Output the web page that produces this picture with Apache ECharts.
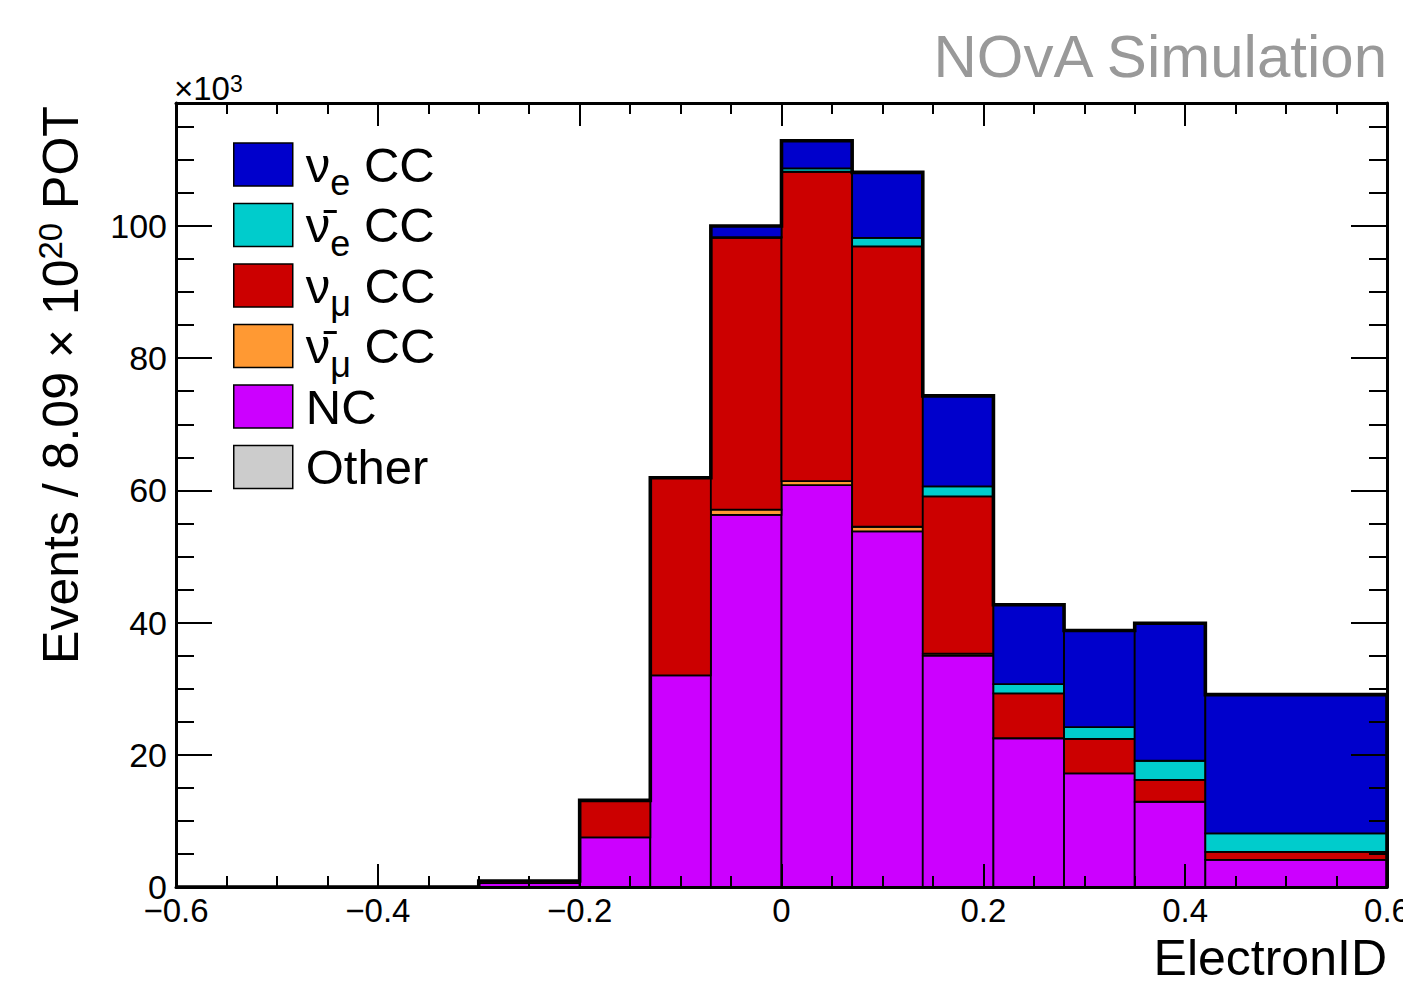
<!DOCTYPE html>
<html><head><meta charset="utf-8">
<script src="https://cdn.jsdelivr.net/npm/echarts@6/dist/echarts.min.js"></script>
<style>html,body{margin:0;padding:0;background:#fff}#c{width:1403px;height:984px}</style>
</head><body><div id="c"></div>
<script>
// ---- data (x10^3 events), bins in ElectronID ----
const binEdges   = [-0.3, -0.2, -0.13, -0.07, 0, 0.07, 0.14, 0.21, 0.28, 0.35, 0.42, 0.6];
const ncVals      = [0.6, 7.5, 32.0, 56.3, 60.8, 53.8, 35.0, 22.5, 17.2, 12.9, 4.1];
const numubarVals = [0, 0, 0, 0.8, 0.6, 0.7, 0.3, 0, 0, 0, 0];
const numuVals    = [0.3, 5.6, 29.9, 41.1, 46.8, 42.4, 23.8, 6.8, 5.2, 3.3, 1.2];
const nuebarVals  = [0, 0, 0, 0.1, 0.5, 1.3, 1.5, 1.4, 1.8, 2.9, 2.8];
const nueVals     = [0, 0, 0, 1.7, 4.2, 9.9, 13.7, 12.0, 14.6, 20.8, 21.0];
const otherVals   = [0, 0, 0, 0, 0, 0, 0, 0, 0, 0, 0];
const xTicks = [-0.6, -0.4, -0.2, 0, 0.2, 0.4, 0.6];
const yTicks = [0, 20, 40, 60, 80, 100];

const FONT = '"Liberation Sans", Arial, Helvetica, sans-serif';

// stacking order bottom -> top
const components = [
  { name: 'NC',      vals: ncVals,      color: '#cc00ff' },
  { name: 'ν̄μ CC',  vals: numubarVals, color: '#ff9933' },
  { name: 'νμ CC',   vals: numuVals,    color: '#cc0000' },
  { name: 'ν̄e CC',  vals: nuebarVals,  color: '#00cccc' },
  { name: 'νe CC',   vals: nueVals,     color: '#0000cc' },
  { name: 'Other',   vals: otherVals,   color: '#cccccc' }
];
const legendOrder = ['νe CC', 'ν̄e CC', 'νμ CC', 'ν̄μ CC', 'NC', 'Other'];
const legendRich = {
  'νe CC':  '{m|ν}{s|e}{m| CC}',
  'ν̄e CC': '{m|ν\u0304}{s|e}{m| CC}',
  'νμ CC':  '{m|ν}{s|μ}{m| CC}',
  'ν̄μ CC': '{m|ν\u0304}{s|μ}{m| CC}',
  'NC':     '{m|NC}{s| }',
  'Other':  '{m|Other}{s| }'
};

const nBins = binEdges.length - 1;
const base = new Array(nBins).fill(0);
const series = [];
components.forEach(c => {
  const data = [];
  for (let i = 0; i < nBins; i++) {
    data.push([binEdges[i], binEdges[i + 1], base[i], base[i] + c.vals[i]]);
    base[i] += c.vals[i];
  }
  series.push({
    name: c.name, type: 'custom', xAxisIndex: 0, yAxisIndex: 0, z: 2,
    itemStyle: { color: c.color },
    dimensions: ['x0', 'x1', 'y0', 'y1'],
    encode: { x: [0, 1], y: [2, 3] },
    data: data,
    renderItem: function (params, api) {
      const x0 = api.value(0), x1 = api.value(1), y0 = api.value(2), y1 = api.value(3);
      if (!(y1 - y0 > 0)) return null;
      const pA = api.coord([x0, y1]);
      const pB = api.coord([x1, y0]);
      return {
        type: 'rect',
        shape: { x: pA[0], y: pA[1], width: pB[0] - pA[0], height: pB[1] - pA[1] },
        style: { fill: api.visual('color'), stroke: '#000', lineWidth: 1.8 }
      };
    }
  });
});
// total outline
const outline = [[xTicks[0], 0], [binEdges[0], 0]];
for (let i = 0; i < nBins; i++) {
  outline.push([binEdges[i], base[i]], [binEdges[i + 1], base[i]]);
}
outline.push([binEdges[nBins], 0]);
series.push({
  name: 'Total', type: 'line', data: outline, symbol: 'none', z: 4,
  lineStyle: { color: '#000', width: 3.6, join: 'miter' }, silent: true
});

const fmtX = v => Math.abs(v) < 1e-9 ? '0' : v.toFixed(1).replace('-', '\u2212');
const fmtY = v => (yTicks.some(t => Math.abs(t - v) < 1e-6) ? String(Math.round(v)) : '');

const xCommon = {
  type: 'value', min: -0.6, max: 0.6, interval: 0.2, z: 6,
  axisLine: { show: true, onZero: false, lineStyle: { color: '#000', width: 3 } },
  axisTick: { show: true, inside: true, length: 23, lineStyle: { color: '#000', width: 2 } },
  minorTick: { show: true, splitNumber: 4, length: 11, lineStyle: { color: '#000', width: 2 } },
  splitLine: { show: false }, minorSplitLine: { show: false }
};
const yCommon = {
  type: 'value', min: 0, max: 118.6, interval: 20, z: 6,
  axisLine: { show: true, onZero: false, lineStyle: { color: '#000', width: 3 } },
  axisTick: { show: true, inside: true, length: 36, lineStyle: { color: '#000', width: 2 } },
  minorTick: { show: true, splitNumber: 4, length: 18, lineStyle: { color: '#000', width: 2 } },
  splitLine: { show: false }, minorSplitLine: { show: false }
};

const chart = echarts.init(document.getElementById('c'), null, { renderer: 'svg' });
chart.setOption({
  animation: false,
  backgroundColor: '#fff',
  grid: { left: 176, right: 16, top: 103, bottom: 97, containLabel: false, outerBoundsMode: 'none' },
  xAxis: [
    Object.assign({}, xCommon, { position: 'bottom',
      axisLabel: { show: true, formatter: fmtX, margin: 7, fontSize: 33, color: '#000', fontFamily: FONT } }),
    Object.assign({}, xCommon, { position: 'top', axisLabel: { show: false } })
  ],
  yAxis: [
    Object.assign({}, yCommon, { position: 'left',
      axisLabel: { show: true, formatter: fmtY, margin: 9, fontSize: 34, color: '#000', fontFamily: FONT, showMaxLabel: false } }),
    Object.assign({}, yCommon, { position: 'right', axisLabel: { show: false } })
  ],
  legend: {
    orient: 'vertical', left: 233, top: 140, padding: 0,
    itemWidth: 59, itemHeight: 43, itemGap: 0, icon: 'rect',
    itemStyle: { borderColor: '#000', borderWidth: 1.5 },
    data: legendOrder,
    selectedMode: false,
    formatter: n => legendRich[n],
    textStyle: {
      padding: [0, 0, 0, 8], color: '#000', fontFamily: FONT,
      rich: {
        m: { fontSize: 49, lineHeight: 44, fontFamily: FONT, color: '#000', verticalAlign: 'middle' },
        s: { fontSize: 36, lineHeight: 14, fontFamily: FONT, color: '#000', verticalAlign: 'top', padding: [22, 0, 0, 0] }
      }
    }
  },
  graphic: [
    { type: 'text', x: 1387, y: 56, silent: true,
      style: { text: 'NOvA Simulation', fontSize: 60, fontFamily: FONT, fill: '#999999', align: 'right', verticalAlign: 'middle' } },
    { type: 'text', x: 1387, y: 958, silent: true,
      style: { text: 'ElectronID', fontSize: 50, fontFamily: FONT, fill: '#000', align: 'right', verticalAlign: 'middle' } },
    { type: 'text', x: 61, y: 385, rotation: Math.PI / 2, silent: true,
      style: { text: '{a|Events / 8.09 × 10}{p|20}{a| POT}', align: 'center', verticalAlign: 'middle', fill: '#000',
        rich: {
          a: { fontSize: 50, lineHeight: 54, fontFamily: FONT, fill: '#000', verticalAlign: 'middle' },
          p: { fontSize: 33, lineHeight: 20, fontFamily: FONT, fill: '#000', verticalAlign: 'top' }
        } } },
    { type: 'text', x: 174, y: 88, silent: true,
      style: { text: '{a|×10}{p|3}', align: 'left', verticalAlign: 'middle', fill: '#000',
        rich: {
          a: { fontSize: 33, lineHeight: 32, fontFamily: FONT, fill: '#000', verticalAlign: 'middle' },
          p: { fontSize: 23, lineHeight: 6, fontFamily: FONT, fill: '#000', verticalAlign: 'top' }
        } } }
  ],
  series: series
});
</script></body></html>
